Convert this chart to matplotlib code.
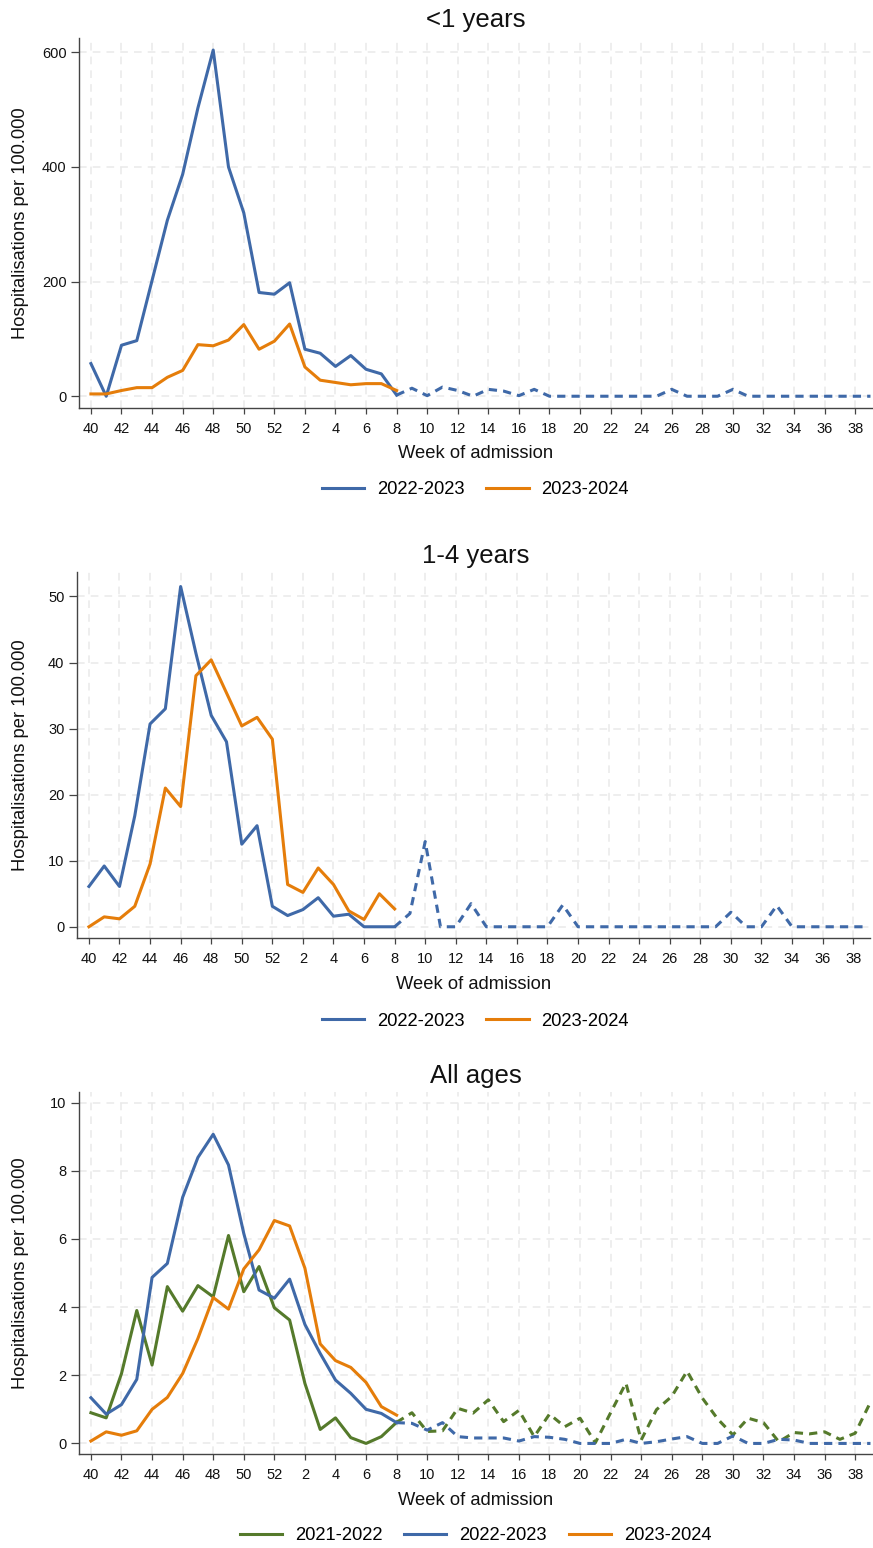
import matplotlib
matplotlib.use("Agg")
import matplotlib.pyplot as plt
from matplotlib.lines import Line2D

plt.rcParams['font.family'] = ['Liberation Sans', 'DejaVu Sans']

# ---------------- data ----------------
weeks = list(range(40, 53)) + list(range(1, 40))
tick_weeks = [40, 42, 44, 46, 48, 50, 52, 2, 4, 6, 8, 10, 12, 14, 16, 18, 20,
              22, 24, 26, 28, 30, 32, 34, 36, 38]
current_end_week = 8  # last observed week of 2023-2024 season

# <1 years
u1_2223 = [57, 0, 89, 97, 202, 307, 387, 503, 604, 400, 320, 181, 178, 198, 82, 75, 52, 71, 47, 39, 2,
           14, 1, 16, 10, 0, 12, 9, 1, 12, 0, 0, 0, 0, 0, 0, 0, 0, 12, 0, 0, 0, 12,
           0, 0, 0, 0, 0, 0, 0, 0, 0]
u1_2324 = [4, 4, 10, 15, 15, 33, 45, 90, 88, 98, 125, 82, 96, 126, 51, 28, 24, 20, 22, 22, 10]

# 1-4 years
c14_2223 = [6.1, 9.2, 6.1, 16.8, 30.7, 33.0, 51.5, 41.4, 32.0, 28.0, 12.5, 15.3, 3.1, 1.7, 2.6, 4.4,
            1.6, 1.9, 0, 0, 0,
            2.0, 12.9, 0, 0, 3.5, 0, 0, 0, 0, 0, 3.3, 0, 0, 0, 0, 0, 0, 0, 0, 0, 0, 2.2, 0, 0, 3.2,
            0, 0, 0, 0, 0, 0]
c14_2324 = [0, 1.5, 1.2, 3.1, 9.5, 21.0, 18.2, 38.0, 40.4, 35.4, 30.4, 31.7, 28.4, 6.4, 5.2, 8.9,
            6.4, 2.4, 1.1, 5.0, 2.7]

# All ages
all_2122 = [0.90, 0.75, 2.05, 3.9, 2.3, 4.6, 3.88, 4.63, 4.3, 6.1, 4.45, 5.19, 3.98, 3.62, 1.76,
            0.41, 0.75, 0.17, 0.0, 0.2, 0.62,
            0.9, 0.35, 0.37, 1.03, 0.89, 1.28, 0.64, 0.97, 0.2, 0.86, 0.49, 0.74, 0.02, 0.9, 1.77,
            0.1, 0.99, 1.38, 2.12, 1.33, 0.72, 0.25, 0.74, 0.61, 0.05, 0.32, 0.28, 0.34, 0.12,
            0.3, 1.21]
all_2223 = [1.34, 0.86, 1.14, 1.88, 4.87, 5.28, 7.22, 8.39, 9.07, 8.17, 6.16, 4.5, 4.26, 4.82,
            3.49, 2.64, 1.86, 1.47, 1.0, 0.88, 0.61,
            0.59, 0.39, 0.61, 0.2, 0.16, 0.16, 0.16, 0.07, 0.2, 0.18, 0.12, 0, 0, 0, 0.12, 0, 0.05,
            0.13, 0.2, 0, 0, 0.22, 0, 0, 0.12, 0.1, 0, 0, 0, 0, 0]
all_2324 = [0.07, 0.34, 0.24, 0.37, 1.0, 1.35, 2.05, 3.08, 4.28, 3.94, 5.12, 5.68, 6.54, 6.38,
            5.14, 2.92, 2.43, 2.23, 1.79, 1.08, 0.83]

titles = ["<1 years", "1-4 years", "All ages"]

# ---------------- style ----------------
C_GREEN = "#557A2B"
C_BLUE = "#3F69A8"
C_ORANGE = "#E57D0A"
colors = {"2021-2022": C_GREEN, "2022-2023": C_BLUE, "2023-2024": C_ORANGE}
LW = 2.2
DASH = (2.7, 2.0)

W, H = 873, 1548
DPI = 100
fig = plt.figure(figsize=(W / DPI, H / DPI), dpi=DPI)
fig.patch.set_facecolor("white")

positions = list(range(len(weeks)))
split = weeks.index(current_end_week)
tick_pos = [weeks.index(w) if w >= 40 else 13 + w - 1 for w in tick_weeks]


def px_axes(left, top, bottom, width=793):
    return fig.add_axes([left / W, 1 - bottom / H, width / W, (bottom - top) / H])


panel_specs = [
    dict(left=79, top=38, bottom=407.7, ylim=(-20, 625), yticks=[0, 200, 400, 600],
         series=[("2022-2023", u1_2223), ("2023-2024", u1_2324)], title_y=20, legend_y=490),
    dict(left=77, top=572, bottom=938, ylim=(-1.7, 53.7), yticks=[0, 10, 20, 30, 40, 50],
         series=[("2022-2023", c14_2223), ("2023-2024", c14_2324)], title_y=556, legend_y=1021),
    dict(left=79, top=1092, bottom=1454, ylim=(-0.31, 10.31), yticks=[0, 2, 4, 6, 8, 10],
         series=[("2021-2022", all_2122), ("2022-2023", all_2223), ("2023-2024", all_2324)],
         title_y=1076, legend_y=1536),
]

for i, spec in enumerate(panel_specs):
    ax = px_axes(spec["left"], spec["top"], spec["bottom"])
    handles = []
    for name, vals in spec["series"]:
        c = colors[name]
        n_solid = min(len(vals), split + 1)
        ax.plot(positions[:n_solid], vals[:n_solid], color=c, lw=LW, zorder=3)
        if len(vals) > split + 1:
            ax.plot(positions[split:len(vals)], vals[split:], color=c, lw=LW,
                    linestyle=(0, DASH), zorder=3)
        handles.append(Line2D([], [], color=c, lw=LW, label=name))

    ax.set_xlim(-0.78, 51.1)
    ax.set_ylim(*spec["ylim"])
    ax.set_xticks(tick_pos)
    ax.set_xticklabels([str(w) for w in tick_weeks])
    ax.set_yticks(spec["yticks"])
    ax.set_yticklabels([str(v) for v in spec["yticks"]])
    ax.grid(True, color="#eaeaea", lw=1.1, linestyle=(0, (5, 4)), zorder=0)
    ax.set_axisbelow(True)
    for s in ["top", "right"]:
        ax.spines[s].set_visible(False)
    for s in ["left", "bottom"]:
        ax.spines[s].set_color("#444444")
        ax.spines[s].set_linewidth(1.0)
    ax.tick_params(axis="x", length=4, width=0.9, color="#444444", labelsize=10.5, pad=6,
                   labelcolor="#111111")
    ax.tick_params(axis="y", length=6, width=0.9, color="#444444", labelsize=10.5, pad=3,
                   labelcolor="#111111")
    ax.set_xlabel("Week of admission", fontsize=13.2, color="#111111", labelpad=7)
    ax.set_ylabel("Hospitalisations per 100.000", fontsize=13.2, color="#111111")
    ax.yaxis.set_label_coords(-(spec["left"] - 29) / 793, 0.5)

    fig.text(475.5 / W, 1 - spec["title_y"] / H, titles[i], fontsize=18.5, ha="center",
             va="center", color="#111111")
    fig.legend(handles=handles, loc="center", bbox_to_anchor=(475.5 / W, 1 - spec["legend_y"] / H),
               ncol=len(handles), frameon=False, fontsize=13.2, handlelength=2.3,
               handletextpad=0.7, columnspacing=1.2)

fig.savefig("out.png", dpi=DPI, facecolor="white")
